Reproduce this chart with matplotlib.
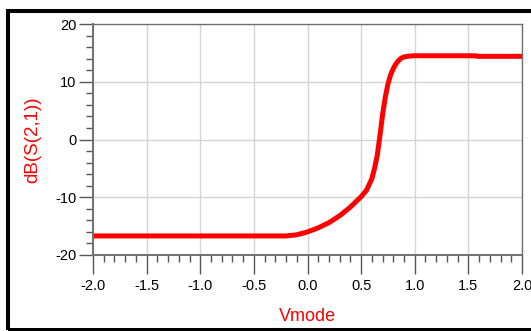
import matplotlib
matplotlib.use('Agg')
import matplotlib.pyplot as plt
from matplotlib.patches import Rectangle
from matplotlib.ticker import MultipleLocator

plt.rcParams['font.family'] = ['Liberation Sans', 'DejaVu Sans']
plt.rcParams['axes.unicode_minus'] = False

# sweep of Vmode and the resulting dB(S(2,1))
vmode = [-2.0, -1.5, -1.0, -0.5, -0.2, -0.1, 0.0, 0.1, 0.2, 0.3, 0.4, 0.5,
         0.55, 0.6, 0.625, 0.65, 0.675, 0.7, 0.725, 0.75, 0.775, 0.8, 0.825,
         0.85, 0.875, 0.9, 0.95, 1.0, 1.2, 1.4, 1.57, 1.58, 1.8, 2.0]
db_s21 = [-16.7, -16.7, -16.7, -16.7, -16.7, -16.5, -16.0, -15.3, -14.4, -13.2, -11.7, -9.9,
          -8.8, -6.8, -5.0, -2.8, 0.6, 4.3, 7.3, 9.6, 11.2, 12.3, 13.1,
          13.7, 14.1, 14.3, 14.45, 14.5, 14.5, 14.5, 14.5, 14.4, 14.4, 14.4]

W, H = 531, 331
fig = plt.figure(figsize=(W / 100, H / 100), dpi=100)

# black frame around the plot (right edge runs off the image)
fig.patches.append(Rectangle((8 / W, 1 / H), 1.1, (320.5 - 1) / H,
                             transform=fig.transFigure, fill=False,
                             edgecolor='black', linewidth=2.9, clip_on=False))

ax = fig.add_axes([93 / W, (H - 255) / H, (522 - 93) / W, (255 - 24) / H])
ax.plot(vmode, db_s21, color='#ff0000', linewidth=3.6, solid_capstyle='butt')

ax.set_xlim(-2, 2)
ax.set_ylim(-20, 20)
ax.xaxis.set_major_locator(MultipleLocator(0.5))
ax.xaxis.set_minor_locator(MultipleLocator(0.1))
ax.yaxis.set_major_locator(MultipleLocator(10))
ax.yaxis.set_minor_locator(MultipleLocator(2))
ax.set_xticklabels([f'{v:.1f}' for v in ax.get_xticks()])

ax.grid(True, which='major', color='#d4d4d4', linewidth=1.0)
ax.set_axisbelow(True)
for s in ax.spines.values():
    s.set_color('#707070')
    s.set_linewidth(1.0)
ax.spines['left'].set_linewidth(1.4)
ax.spines['bottom'].set_linewidth(1.4)

ax.tick_params(which='major', length=10, width=1.0, color='#555555',
               labelsize=10.5, pad=2, direction='out')
ax.tick_params(which='minor', length=5, width=1.0, color='#555555', direction='out')
ax.tick_params(axis='x', which='major', length=14, pad=3)

ax.set_xlabel('Vmode', color='#ff0000', fontsize=13, labelpad=11)
ax.set_ylabel('dB(S(2,1))', color='#ff0000', fontsize=13.5, labelpad=10)

fig.savefig('out.png', dpi=100)
